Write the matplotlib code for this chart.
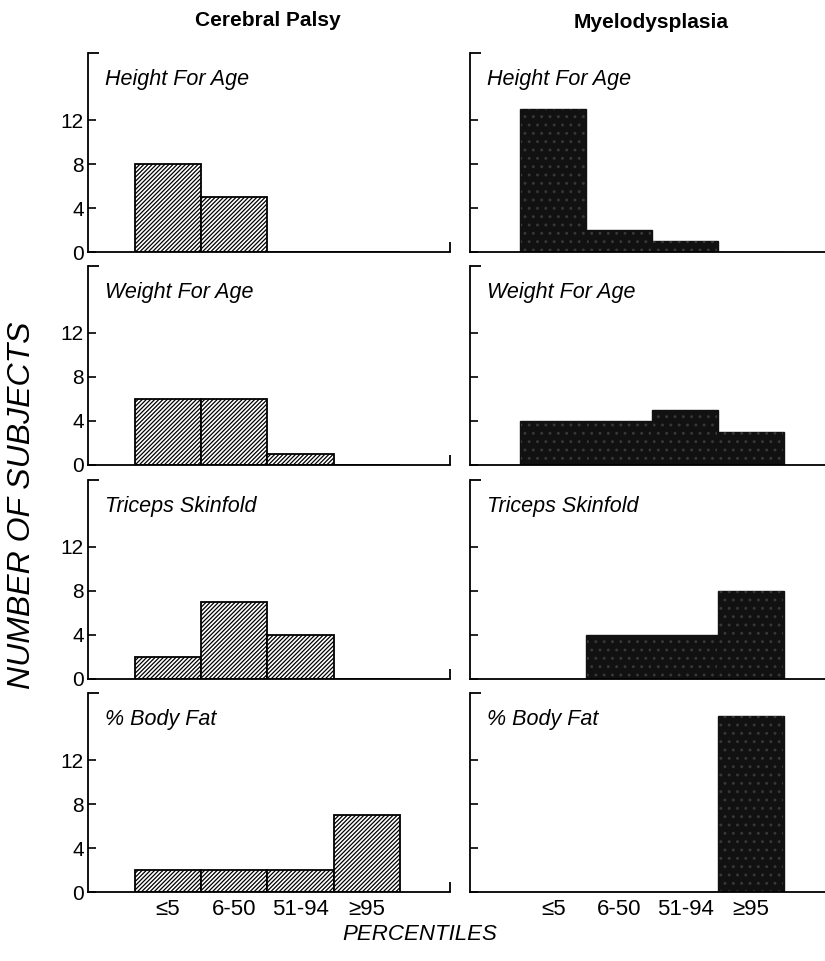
import matplotlib
matplotlib.use("Agg")
import matplotlib.pyplot as plt
import numpy as np

plt.rcParams['font.family'] = ['Liberation Sans', 'DejaVu Sans']
plt.rcParams['hatch.linewidth'] = 0.9

categories = ["≤5", "6-50", "51-94", "≥95"]
panel_titles = ["Height For Age", "Weight For Age", "Triceps Skinfold", "% Body Fat"]
column_titles = ["Cerebral Palsy", "Myelodysplasia"]

# counts per percentile group, one list per measure
cp_counts = [
    [8, 5, 0, 0],
    [6, 6, 1, 0],
    [2, 7, 4, 0],
    [2, 2, 2, 7],
]
myelo_counts = [
    [13, 2, 1, 0],
    [4, 4, 5, 3],
    [0, 4, 4, 8],
    [0, 0, 0, 16],
]
yticks = [0, 4, 8, 12]

W, H = 825, 961
fig = plt.figure(figsize=(W / 100, H / 100), dpi=100)

# pixel geometry of panels
zero_px = [252, 465, 679, 892]
panel_h = 199
col_x = [(88, 450), (470, 835)]
col_xlim = [(-1.21, 4.26), (-1.26, 4.27)]
ymax = panel_h / 11.0

x = np.arange(len(categories))

for c, (counts, (x0, x1)) in enumerate(zip([cp_counts, myelo_counts], col_x)):
    for r in range(4):
        ax = fig.add_axes([x0 / W, (H - zero_px[r]) / H, (x1 - x0) / W, panel_h / H])
        if c == 0:
            ax.bar(x, counts[r], width=1.0, facecolor="white", edgecolor="black",
                   linewidth=1.3, hatch="////////")
        else:
            ax.bar(x, counts[r], width=1.0, facecolor="#111111", edgecolor="#111111",
                   linewidth=1.0)
            ax.bar(x, counts[r], width=0.96, facecolor="none", edgecolor="#383838",
                   linewidth=0, hatch="..")
        ax.set_xlim(*col_xlim[c])
        ax.set_ylim(0, ymax)
        for s in ["top", "right"]:
            ax.spines[s].set_visible(False)
        ax.spines["left"].set_linewidth(1.3)
        ax.spines["bottom"].set_linewidth(1.3)
        # short cap at top of y-axis, and short riser at right end of x-axis
        ax.plot([0, 0.03], [1, 1], transform=ax.transAxes, color="black",
                lw=1.3, clip_on=False, solid_capstyle="butt")
        if c == 0:
            ax.plot([1, 1], [0, 0.05], transform=ax.transAxes, color="black",
                    lw=1.3, clip_on=False, solid_capstyle="butt")
        ax.set_yticks(yticks)
        ax.tick_params(axis="y", direction="in", length=6, width=1.2, pad=3,
                       labelsize=15)
        if c == 1:
            ax.set_yticklabels([])
        ax.set_xticks(x)
        ax.tick_params(axis="x", length=0, pad=5, labelsize=16)
        if r == 3:
            ax.set_xticklabels(categories)
        else:
            ax.set_xticklabels([])
        ax.annotate(panel_titles[r], xy=(0, 1), xycoords="axes fraction",
                    xytext=(12, -19), textcoords="offset points",
                    ha="left", va="center", fontsize=15.5, style="italic")

fig.text(268 / W, 1 - 20 / H, column_titles[0], ha="center", va="center",
         fontsize=15, fontweight="bold")
fig.text(651 / W, 1 - 22 / H, column_titles[1], ha="center", va="center",
         fontsize=15, fontweight="bold")
fig.text(22 / W, 1 - 505 / H, "NUMBER OF SUBJECTS", rotation=90, ha="center",
         va="center", fontsize=23, style="italic")
fig.text(420 / W, 1 - 935 / H, "PERCENTILES", ha="center", va="center",
         fontsize=16, style="italic")

fig.savefig("out.png", dpi=100)
